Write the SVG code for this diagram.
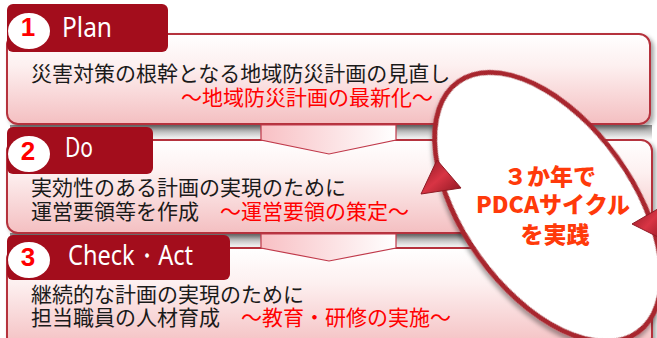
<svg xmlns="http://www.w3.org/2000/svg" width="657" height="338" viewBox="0 0 657 338">
<defs>
<style>
.box{stroke:#b5323c;stroke-width:2;fill:url(#boxg)}
.tab{fill:#a30d1c}
.circ{fill:#fff}
.num{font-family:"Liberation Sans",Arial,sans-serif;font-weight:bold;font-size:26px;fill:#ff0000;text-anchor:middle}
.head{font-family:"Noto Sans","Liberation Sans",sans-serif;font-size:27px;fill:#fff}
.jp{font-family:"Noto Sans CJK JP","Noto Sans",sans-serif;font-size:21px;fill:#1a1a1a}
.red{fill:#ff0000}
.chev{fill:url(#chevg);stroke:#c0394a;stroke-width:1.2}
.shadow{fill:url(#shg)}
.big{font-family:"Noto Sans CJK JP","Noto Sans",sans-serif;font-weight:900;font-size:23px;fill:#ff3a0a;text-anchor:middle}
.arr{fill:url(#arrg);stroke:#8e1a24;stroke-width:1}
</style>
<linearGradient id="boxg" x1="0" y1="0" x2="0" y2="1">
<stop offset="0" stop-color="#ffffff"/>
<stop offset="0.35" stop-color="#fdf0f0"/>
<stop offset="1" stop-color="#f4bfc1"/>
</linearGradient>
<linearGradient id="chevg" x1="0" y1="0" x2="1" y2="0">
<stop offset="0" stop-color="#f8c0c4"/>
<stop offset="1" stop-color="#ffffff"/>
</linearGradient>
<linearGradient id="shg" x1="0" y1="0" x2="0" y2="1">
<stop offset="0" stop-color="#8c8c8c"/>
<stop offset="1" stop-color="#ffffff"/>
</linearGradient>
<linearGradient id="arrg" x1="0" y1="0" x2="1" y2="1">
<stop offset="0" stop-color="#8a1620"/>
<stop offset="0.5" stop-color="#d83444"/>
<stop offset="1" stop-color="#8a1620"/>
</linearGradient>
<filter id="ds" x="-10%" y="-10%" width="130%" height="130%">
<feDropShadow dx="3" dy="3" stdDeviation="2" flood-color="#000" flood-opacity="0.35"/>
</filter>
</defs>

<rect x="0" y="0" width="657" height="338" fill="#fff"/>

<!-- shadows between boxes -->
<rect class="shadow" x="10" y="125" width="642" height="15"/>
<rect class="shadow" x="10" y="233" width="642" height="15"/>

<g id="node-plan">
<rect class="box" x="7" y="34" width="643" height="90" rx="11" filter="url(#ds)"/>
<rect class="tab" x="7" y="4" width="161" height="48" rx="6"/>
<ellipse class="circ" cx="29" cy="31" rx="21" ry="18"/>
<text class="num" x="28" y="36">1</text>
<text class="head" x="62" y="37" textLength="50" lengthAdjust="spacingAndGlyphs">Plan</text>
<text class="jp" x="31" y="81">災害対策の根幹となる地域防災計画の見直し</text>
<text class="jp red" x="181" y="105">～地域防災計画の最新化～</text>
</g>

<g id="node-do">
<rect class="box" x="7" y="140" width="645" height="93" rx="11" filter="url(#ds)"/>
<rect class="tab" x="7" y="127" width="146" height="47" rx="6"/>
<ellipse class="circ" cx="29" cy="154" rx="21" ry="18"/>
<text class="num" x="28" y="160">2</text>
<text class="head" x="65" y="157" textLength="28" lengthAdjust="spacingAndGlyphs">Do</text>
<text class="jp" x="31" y="195">実効性のある計画の実現のために</text>
<text class="jp" x="31" y="219">運営要領等を作成<tspan class="red">　～運営要領の策定～</tspan></text>
</g>

<g id="node-check-act">
<rect class="box" x="7" y="248" width="645" height="100" rx="11" filter="url(#ds)"/>
<rect class="tab" x="7" y="235" width="223" height="45" rx="6"/>
<ellipse class="circ" cx="29" cy="260" rx="21" ry="18"/>
<text class="num" x="28" y="266">3</text>
<text class="head" x="68" y="265" textLength="125" lengthAdjust="spacingAndGlyphs">Check・Act</text>
<text class="jp" x="31" y="302">継続的な計画の実現のために</text>
<text class="jp" x="31" y="325">担当職員の人材育成<tspan class="red">　～教育・研修の実施～</tspan></text>
</g>

<g id="connectors">
<polygon class="chev" points="261,125 396,125 396,140 329,154 261,140"/>
<polygon class="chev" points="261,234 396,234 396,248 329,261 261,248"/>
</g>

<g id="node-cycle">
<ellipse cx="548" cy="207" rx="154" ry="85" transform="rotate(54.3 548 207)" fill="#fff" stroke="#a8252f" stroke-width="5" filter="url(#ds)"/>
<polygon class="arr" points="437,160 421,194 461,188"/>
<polygon class="arr" points="632,224 668,203 668,242"/>
<text class="big" x="550" y="185">３か年で</text>
<text class="big" x="553" y="213">PDCAサイクル</text>
<text class="big" x="555" y="243">を実践</text>
</g>
</svg>
